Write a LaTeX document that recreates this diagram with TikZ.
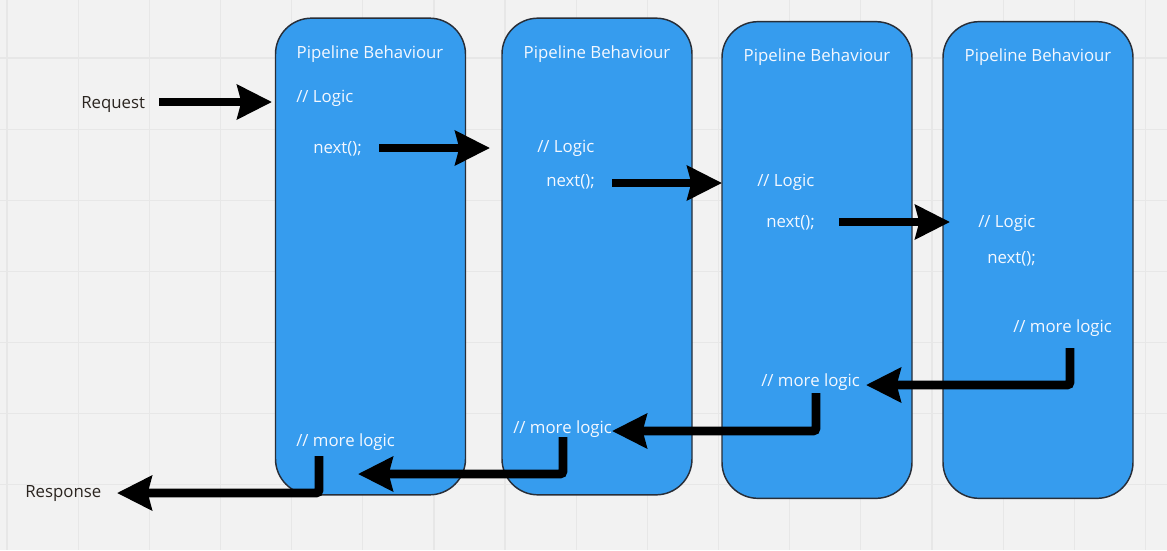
\documentclass[tikz,border=0pt]{standalone}
\usepackage{fontspec}
\setmainfont{Open Sans}
\usepackage{tikz}
\usetikzlibrary{positioning}
\usetikzlibrary{arrows.meta}
\definecolor{pbblue}{RGB}{54,156,238}
\definecolor{pbedge}{RGB}{40,46,56}
\definecolor{pbtext}{RGB}{244,248,255}
\definecolor{darktext}{RGB}{43,37,32}
\definecolor{board}{RGB}{242,242,242}
\definecolor{gridline}{RGB}{231,231,231}
\tikzset{%
  pb/.style = {rectangle,draw=pbedge,line width=1.1pt,fill=pbblue,
        rounded corners=27pt,minimum width=142.5pt,minimum height=357.5pt,
        inner sep=0pt},
  lbl/.style = {text=pbtext,anchor=base west,inner sep=0pt,
        font=\fontsize{12.6}{15}\selectfont},
  ttl/.style = {lbl,anchor=base},
  ext/.style = {lbl,text=darktext},
  callarrow/.style = {-{Stealth[length=26pt,width=25.5pt,inset=3pt]},
        line width=6.5pt},
  backarrow/.style = {callarrow,rounded corners=2pt}
}

\begin{document}
\begin{tikzpicture}[x=0.75pt,y=-0.75pt]
                    \useasboundingbox (0,0) rectangle (1167,550);
                    % whiteboard
                    \fill[board] (0,0) rectangle (1167,550);
                    \foreach \k in {0,...,16}
                        \draw[gridline,line width=0.9pt] (7+71.15*\k,0) -- (7+71.15*\k,550);
                    \foreach \k in {1,...,7}
                        \draw[gridline,line width=0.9pt] (0,-13.2+71.15*\k) -- (1167,-13.2+71.15*\k);

                    % behaviours
                    \node[pb] (b1) at (370.5,256.5) {};
                    \node[pb] (b2) at (597,256.5) {};
                    \node[pb] (b3) at (817,260) {};
                    \node[pb] (b4) at (1038,260) {};

                    \node[ttl] (t1) at (370,58) {Pipeline Behaviour};
                    \node[ttl] (t2) at (597,58) {Pipeline Behaviour};
                    \node[ttl] (t3) at (817,61) {Pipeline Behaviour};
                    \node[ttl] (t4) at (1038,61) {Pipeline Behaviour};

                    \node[lbl] (l1) at (296,102) {// Logic};
                    \node[lbl] (l2) at (537,152) {// Logic};
                    \node[lbl] (l3) at (757,186) {// Logic};
                    \node[lbl] (l4) at (978,227) {// Logic};

                    \node[lbl] (n1) at (313,153) {next();};
                    \node[lbl] (n2) at (546,186) {next();};
                    \node[lbl] (n3) at (766,227) {next();};
                    \node[lbl] (n4) at (987,263) {next();};

                    \node[lbl] (m1) at (296,446) {// more logic};
                    \node[lbl] (m2) at (513,433) {// more logic};
                    \node[lbl] (m3) at (761,386) {// more logic};
                    \node[lbl] (m4) at (1013,332) {// more logic};

                    \node[ext] (req) at (81,108) {Request};
                    \node[ext] (resp) at (25,497) {Response};

                    % arrow ends
                    \coordinate (a0s) at (159,102);
                    \coordinate (a0e) at (272,102);
                    \coordinate (a1s) at (379,148);
                    \coordinate (a1e) at (490,148);
                    \coordinate (a2s) at (612,183);
                    \coordinate (a2e) at (722,183);
                    \coordinate (a3s) at (839,222);
                    \coordinate (a3e) at (950,222);
                    \coordinate (r4s) at (1070,348);
                    \coordinate (r4e) at (866,385);
                    \coordinate (r3s) at (816,393);
                    \coordinate (r3e) at (612,431);
                    \coordinate (r2s) at (563,437);
                    \coordinate (r2e) at (358,474);
                    \coordinate (r1s) at (319,456);
                    \coordinate (r1e) at (117,493);

                    \draw[callarrow] (a0s) -- (a0e);
                    \draw[callarrow] (a1s) -- (a1e);
                    \draw[callarrow] (a2s) -- (a2e);
                    \draw[callarrow] (a3s) -- (a3e);

                    \draw[backarrow] (r4s) |- (r4e);
                    \draw[backarrow] (r3s) |- (r3e);
                    \draw[backarrow] (r2s) |- (r2e);
                    \draw[backarrow] (r1s) |- (r1e);
                 \end{tikzpicture}
\end{document}
